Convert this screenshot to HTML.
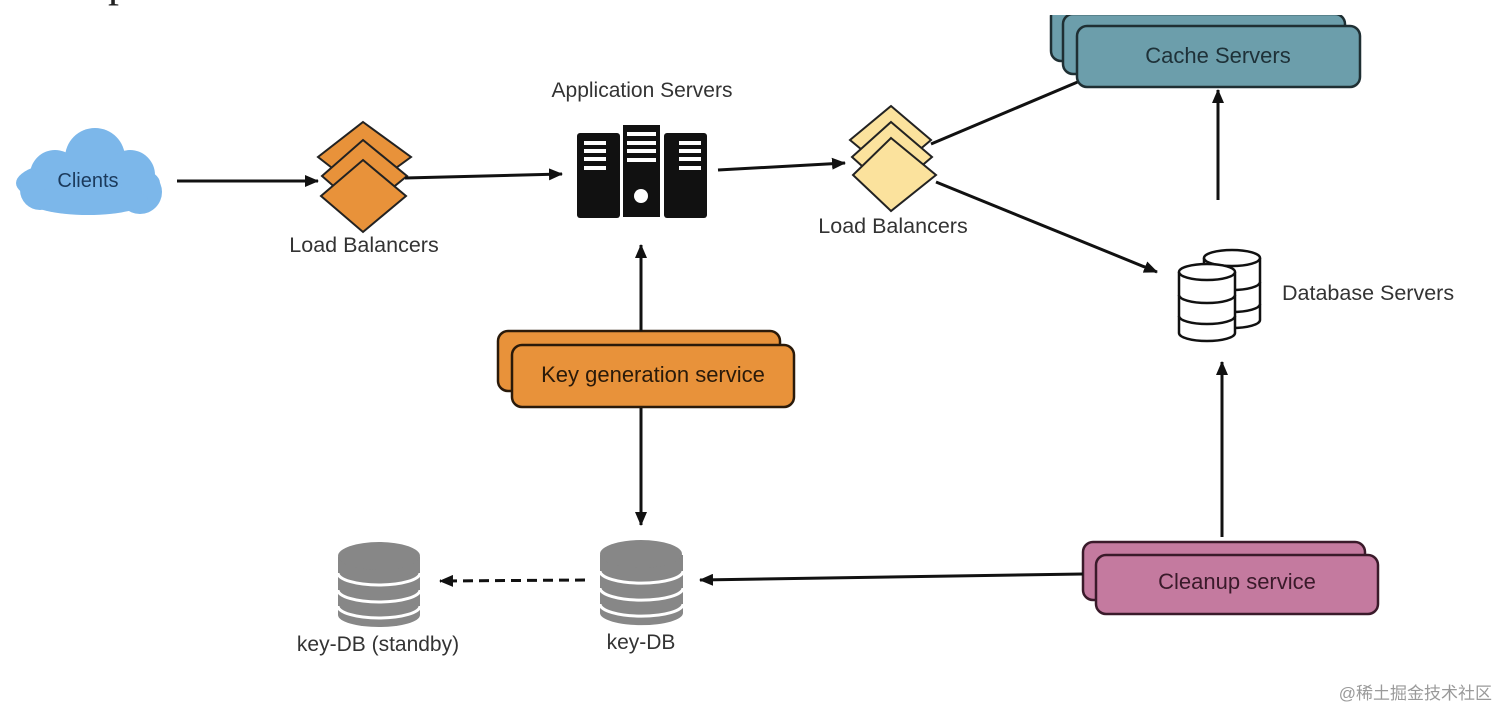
<!DOCTYPE html>
<html><head><meta charset="utf-8"><style>
html,body{margin:0;padding:0;background:#fff;width:1512px;height:724px;overflow:hidden}
svg text{font-family:"Liberation Sans",sans-serif}
</style></head><body>
<svg width="1512" height="724" viewBox="0 0 1512 724" xmlns="http://www.w3.org/2000/svg">
<defs>
<marker id="b" markerWidth="14" markerHeight="12" refX="13" refY="6" orient="auto" markerUnits="userSpaceOnUse" viewBox="0 0 14 12">
<path d="M0,0 L14,6 L0,12 Z" fill="#111"/></marker>
</defs>
<text x="108" y="-4" font-size="44" fill="#222" style="font-family:'Liberation Serif',serif">p</text>

<!-- cloud -->
<g fill="#7cb7ea">
<ellipse cx="88" cy="183" rx="72" ry="24"/>
<circle cx="95" cy="158" r="30"/>
<circle cx="55" cy="175" r="25"/>
<circle cx="130" cy="175" r="25"/>
<circle cx="40" cy="190" r="20"/>
<circle cx="140" cy="192" r="22"/>
<ellipse cx="88" cy="200" rx="60" ry="15"/>
</g>
<text x="88" y="187" font-size="20" fill="#1b3a5c" text-anchor="middle">Clients</text>

<line x1="177" y1="181" x2="318" y2="181" stroke="#111" stroke-width="3" marker-end="url(#b)"/>

<!-- LB1 -->
<g fill="#e8923a" stroke="#222" stroke-width="2">
<path d="M363,122 L411,157 L363,192 L318,157 Z"/>
<path d="M363,140 L407,176 L363,212 L322,176 Z"/>
<path d="M363,160 L406,196 L363,232 L321,196 Z"/>
</g>
<text x="364" y="252" font-size="21.5" fill="#333" text-anchor="middle">Load Balancers</text>

<line x1="405" y1="178" x2="562" y2="174" stroke="#111" stroke-width="3" marker-end="url(#b)"/>

<!-- App servers -->
<text x="642" y="97" font-size="21" fill="#333" text-anchor="middle">Application Servers</text>
<g fill="#111">
<rect x="577" y="133" width="43" height="85" rx="3"/>
<rect x="623" y="125" width="37" height="92"/>
<rect x="664" y="133" width="43" height="85" rx="3"/>
</g>
<g fill="#fff">
<rect x="584" y="141" width="22" height="4"/><rect x="584" y="149" width="22" height="4"/><rect x="584" y="157" width="22" height="4"/><rect x="584" y="166" width="22" height="4"/>
<rect x="627" y="132" width="29" height="4"/><rect x="627" y="141" width="29" height="4"/><rect x="627" y="149" width="29" height="4"/><rect x="627" y="158" width="29" height="4"/>
<rect x="679" y="141" width="22" height="4"/><rect x="679" y="149" width="22" height="4"/><rect x="679" y="157" width="22" height="4"/><rect x="679" y="166" width="22" height="4"/>
<circle cx="641" cy="196" r="7"/>
</g>

<line x1="718" y1="170" x2="845" y2="163" stroke="#111" stroke-width="3" marker-end="url(#b)"/>

<!-- LB2 -->
<g fill="#fbe29d" stroke="#222" stroke-width="2">
<path d="M891,106 L931,140 L891,174 L850,140 Z"/>
<path d="M891,122 L932,157 L891,192 L852,157 Z"/>
<path d="M891,138 L936,175 L891,211 L853,175 Z"/>
</g>
<text x="893" y="233" font-size="21.5" fill="#333" text-anchor="middle">Load Balancers</text>

<line x1="931" y1="144" x2="1080" y2="81" stroke="#111" stroke-width="3"/>
<line x1="936" y1="182" x2="1157" y2="272" stroke="#111" stroke-width="3" marker-end="url(#b)"/>

<!-- Cache -->
<g fill="#6c9eab" stroke="#1f2f33" stroke-width="2.5">
<rect x="1051" y="6" width="282" height="55" rx="10"/>
<rect x="1063" y="14" width="282" height="60" rx="10"/>
<rect x="1077" y="26" width="283" height="61" rx="10"/>
</g>
<rect x="1040" y="0" width="330" height="15" fill="#fff"/>
<text x="1218" y="63" font-size="22" fill="#1e3138" text-anchor="middle">Cache Servers</text>

<line x1="1218" y1="200" x2="1218" y2="90" stroke="#111" stroke-width="3" marker-end="url(#b)"/>

<!-- DB servers -->
<g fill="#fff" stroke="#111" stroke-width="2.5">
<path d="M1204,258 L1204,320 A28,8 0 0 0 1260,320 L1260,258"/>
<ellipse cx="1232" cy="258" rx="28" ry="8"/>
<path d="M1204,282 A28,8 0 0 0 1260,282 M1204,304 A28,8 0 0 0 1260,304" fill="none"/>
<path d="M1179,272 L1179,333 A28,8 0 0 0 1235,333 L1235,272"/>
<ellipse cx="1207" cy="272" rx="28" ry="8"/>
<path d="M1179,295 A28,8 0 0 0 1235,295 M1179,316 A28,8 0 0 0 1235,316" fill="none"/>
</g>
<text x="1282" y="300" font-size="21.5" fill="#333">Database Servers</text>

<line x1="1222" y1="537" x2="1222" y2="362" stroke="#111" stroke-width="3" marker-end="url(#b)"/>

<!-- Cleanup -->
<g fill="#c47a9f" stroke="#3a1a2a" stroke-width="2.5">
<rect x="1083" y="542" width="282" height="58" rx="10"/>
<rect x="1096" y="555" width="282" height="59" rx="10"/>
</g>
<text x="1237" y="589" font-size="22" fill="#3a1a2a" text-anchor="middle">Cleanup service</text>

<line x1="1083" y1="574" x2="700" y2="580" stroke="#111" stroke-width="3" marker-end="url(#b)"/>

<!-- Key gen -->
<g fill="#e8923a" stroke="#2a1a0a" stroke-width="2.5">
<rect x="498" y="331" width="282" height="60" rx="10"/>
<rect x="512" y="345" width="282" height="62" rx="10"/>
</g>
<text x="653" y="382" font-size="22" fill="#2a1a0a" text-anchor="middle">Key generation service</text>

<line x1="641" y1="331" x2="641" y2="245" stroke="#111" stroke-width="3" marker-end="url(#b)"/>
<line x1="641" y1="408" x2="641" y2="525" stroke="#111" stroke-width="3" marker-end="url(#b)"/>

<!-- key-DB -->
<g>
<path d="M600,555 L600,613 A41,12 0 0 0 683,613 L683,555 Z" fill="#878787"/>
<ellipse cx="641" cy="554" rx="41" ry="14" fill="#878787"/>
<path d="M600,571 A41,12 0 0 0 683,571 M600,588 A41,12 0 0 0 683,588 M600,604 A41,12 0 0 0 683,604" fill="none" stroke="#fff" stroke-width="3"/>
</g>
<text x="641" y="649" font-size="21" fill="#333" text-anchor="middle">key-DB</text>

<line x1="585" y1="580" x2="440" y2="581" stroke="#111" stroke-width="3" stroke-dasharray="10,6" marker-end="url(#b)"/>

<g>
<path d="M338,557 L338,615 A41,12 0 0 0 420,615 L420,557 Z" fill="#878787"/>
<ellipse cx="379" cy="556" rx="41" ry="14" fill="#878787"/>
<path d="M338,573 A41,12 0 0 0 420,573 M338,590 A41,12 0 0 0 420,590 M338,606 A41,12 0 0 0 420,606" fill="none" stroke="#fff" stroke-width="3"/>
</g>
<text x="378" y="651" font-size="21" fill="#333" text-anchor="middle">key-DB (standby)</text>

<text x="1492" y="699" font-size="17" fill="#9a9a9a" text-anchor="end" style="font-family:'Liberation Sans','Noto Sans CJK SC',sans-serif">@稀土掘金技术社区</text>
</svg>
</body></html>
